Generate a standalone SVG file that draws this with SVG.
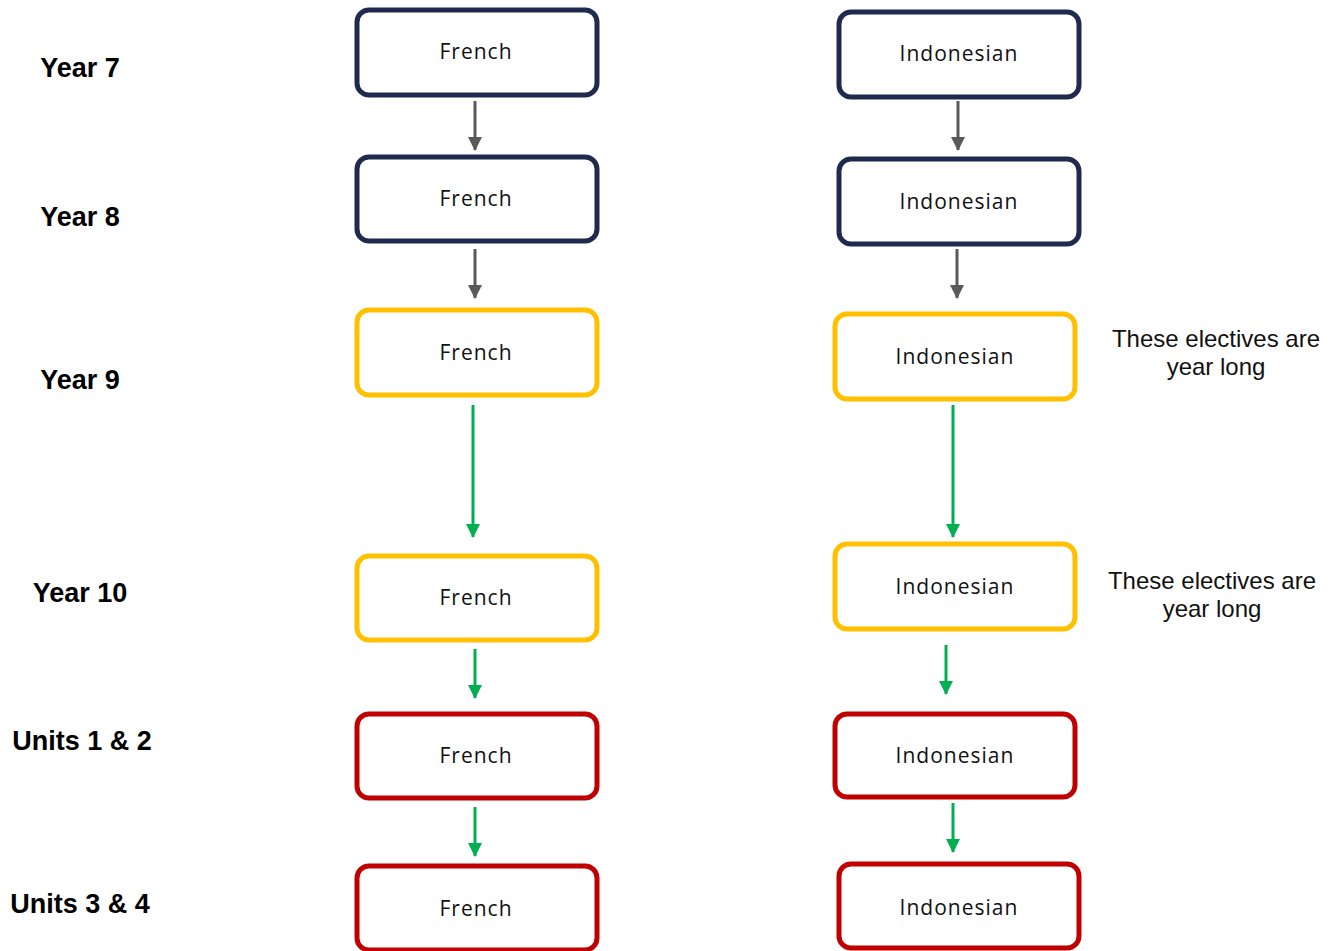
<svg xmlns="http://www.w3.org/2000/svg" width="1333" height="951" viewBox="0 0 1333 951">
<style>
.box{fill:#fff;stroke-width:5}
.navy{stroke:#1f2a4e}
.gold{stroke:#ffc000}
.red{stroke:#c00000}
.bt{font-family:"Open Sans","Noto Sans",sans-serif;font-size:21px;fill:#111;text-anchor:middle;dominant-baseline:central;letter-spacing:1px}
.lbl{font-family:"Liberation Sans",Arial,sans-serif;font-size:27px;font-weight:bold;fill:#000;text-anchor:middle;dominant-baseline:central}
.note{font-family:"Liberation Sans",Arial,sans-serif;font-size:24px;fill:#111;text-anchor:middle}
.g{stroke:#595959;stroke-width:3;fill:none}
.gr{stroke:#00b050;stroke-width:3;fill:none}
</style>
<defs>
<marker id="ag" markerWidth="14" markerHeight="14" refX="13" refY="7" orient="auto" markerUnits="userSpaceOnUse"><path d="M0,0 L14,7 L0,14 Z" fill="#595959"/></marker>
<marker id="agr" markerWidth="14" markerHeight="14" refX="13" refY="7" orient="auto" markerUnits="userSpaceOnUse"><path d="M0,0 L14,7 L0,14 Z" fill="#00b050"/></marker>
</defs>
<g id="labels">
<text class="lbl" x="80" y="68">Year 7</text>
<text class="lbl" x="80" y="217">Year 8</text>
<text class="lbl" x="80" y="380">Year 9</text>
<text class="lbl" x="80" y="593">Year 10</text>
<text class="lbl" x="82" y="741">Units 1 &amp; 2</text>
<text class="lbl" x="80" y="904">Units 3 &amp; 4</text>
</g>
<g id="notes">
<text class="note" x="1216" y="347">These electives are</text>
<text class="note" x="1216" y="375">year long</text>
<text class="note" x="1212" y="589">These electives are</text>
<text class="note" x="1212" y="617">year long</text>
</g>
<g id="fr7"><rect class="box navy" x="357" y="10" width="240" height="85" rx="12"/><text class="bt" x="476" y="51">French</text></g>
<g id="fr8"><rect class="box navy" x="357" y="157" width="240" height="84" rx="12"/><text class="bt" x="476" y="198">French</text></g>
<g id="fr9"><rect class="box gold" x="357" y="310" width="240" height="85" rx="12"/><text class="bt" x="476" y="352">French</text></g>
<g id="fr10"><rect class="box gold" x="357" y="556" width="240" height="84" rx="12"/><text class="bt" x="476" y="597">French</text></g>
<g id="fr12"><rect class="box red" x="357" y="714" width="240" height="84" rx="12"/><text class="bt" x="476" y="755">French</text></g>
<g id="fr34"><rect class="box red" x="357" y="866" width="240" height="84" rx="12"/><text class="bt" x="476" y="908">French</text></g>
<g id="in7"><rect class="box navy" x="839" y="12" width="240" height="85" rx="12"/><text class="bt" x="959" y="53">Indonesian</text></g>
<g id="in8"><rect class="box navy" x="839" y="159" width="240" height="85" rx="12"/><text class="bt" x="959" y="201">Indonesian</text></g>
<g id="in9"><rect class="box gold" x="835" y="314" width="240" height="85" rx="12"/><text class="bt" x="955" y="356">Indonesian</text></g>
<g id="in10"><rect class="box gold" x="835" y="544" width="240" height="85" rx="12"/><text class="bt" x="955" y="586">Indonesian</text></g>
<g id="in12"><rect class="box red" x="835" y="714" width="240" height="83" rx="12"/><text class="bt" x="955" y="755">Indonesian</text></g>
<g id="in34"><rect class="box red" x="839" y="864" width="240" height="84" rx="12"/><text class="bt" x="959" y="907">Indonesian</text></g>
<g id="connectors">
<line class="g" x1="475" y1="101" x2="475" y2="150" marker-end="url(#ag)"/>
<line class="g" x1="475" y1="249" x2="475" y2="298" marker-end="url(#ag)"/>
<line class="gr" x1="473" y1="405" x2="473" y2="537" marker-end="url(#agr)"/>
<line class="gr" x1="475" y1="649" x2="475" y2="698" marker-end="url(#agr)"/>
<line class="gr" x1="475" y1="807" x2="475" y2="856" marker-end="url(#agr)"/>
<line class="g" x1="958" y1="101" x2="958" y2="150" marker-end="url(#ag)"/>
<line class="g" x1="957" y1="249" x2="957" y2="298" marker-end="url(#ag)"/>
<line class="gr" x1="953" y1="405" x2="953" y2="537" marker-end="url(#agr)"/>
<line class="gr" x1="946" y1="645" x2="946" y2="694" marker-end="url(#agr)"/>
<line class="gr" x1="953" y1="803" x2="953" y2="852" marker-end="url(#agr)"/>
</g>
</svg>
